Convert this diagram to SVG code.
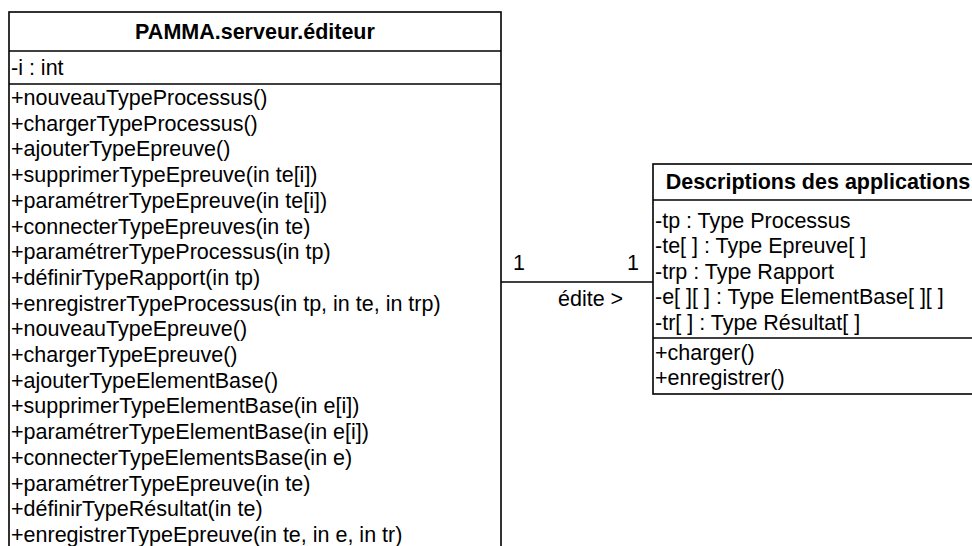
<svg xmlns="http://www.w3.org/2000/svg" width="972" height="546" viewBox="0 0 972 546">
<style>
.box{fill:#fff;stroke:#000;stroke-width:1.6}
.div{stroke:#000;stroke-width:1.6}
.t{font-family:"Liberation Sans",Arial,sans-serif;font-size:21.5px;fill:#000}
.b{font-weight:bold;text-anchor:middle}
.conn{stroke:#000;stroke-width:1.3;fill:none}
</style>
<rect width="972" height="546" fill="#fff"/>
<g id="editeur">
<rect class="box" x="9" y="12" width="492" height="560"/>
<line class="div" x1="9" y1="51" x2="501" y2="51"/>
<line class="div" x1="9" y1="84" x2="501" y2="84"/>
<text class="t b" x="255" y="39">PAMMA.serveur.éditeur</text>
<text class="t" x="11" y="75">-i : int</text>
<text class="t" x="11" y="105">+nouveauTypeProcessus()</text>
<text class="t" x="11" y="130.7">+chargerTypeProcessus()</text>
<text class="t" x="11" y="156.4">+ajouterTypeEpreuve()</text>
<text class="t" x="11" y="182.1">+supprimerTypeEpreuve(in te[i])</text>
<text class="t" x="11" y="207.8">+paramétrerTypeEpreuve(in te[i])</text>
<text class="t" x="11" y="233.5">+connecterTypeEpreuves(in te)</text>
<text class="t" x="11" y="259.2">+paramétrerTypeProcessus(in tp)</text>
<text class="t" x="11" y="284.9">+définirTypeRapport(in tp)</text>
<text class="t" x="11" y="310.6">+enregistrerTypeProcessus(in tp, in te, in trp)</text>
<text class="t" x="11" y="336.3">+nouveauTypeEpreuve()</text>
<text class="t" x="11" y="362">+chargerTypeEpreuve()</text>
<text class="t" x="11" y="387.7">+ajouterTypeElementBase()</text>
<text class="t" x="11" y="413.4">+supprimerTypeElementBase(in e[i])</text>
<text class="t" x="11" y="439.1">+paramétrerTypeElementBase(in e[i])</text>
<text class="t" x="11" y="464.8">+connecterTypeElementsBase(in e)</text>
<text class="t" x="11" y="490.5">+paramétrerTypeEpreuve(in te)</text>
<text class="t" x="11" y="516.2">+définirTypeRésultat(in te)</text>
<text class="t" x="11" y="541.9">+enregistrerTypeEpreuve(in te, in e, in tr)</text>
</g>
<g id="descriptions">
<rect class="box" x="653" y="164" width="340" height="230"/>
<line class="div" x1="653" y1="200" x2="993" y2="200"/>
<line class="div" x1="653" y1="338" x2="993" y2="338"/>
<text class="t b" x="818" y="189">Descriptions des applications</text>
<text class="t" x="655" y="227.5">-tp : Type Processus</text>
<text class="t" x="655" y="253">-te[ ] : Type Epreuve[ ]</text>
<text class="t" x="655" y="278.5">-trp : Type Rapport</text>
<text class="t" x="655" y="304">-e[ ][ ] : Type ElementBase[ ][ ]</text>
<text class="t" x="655" y="329.5">-tr[ ] : Type Résultat[ ]</text>
<text class="t" x="655" y="360">+charger()</text>
<text class="t" x="655" y="385">+enregistrer()</text>
</g>
<g id="connectors">
<line class="conn" x1="501" y1="282" x2="653" y2="282"/>
<text class="t" x="513" y="270">1</text>
<text class="t" x="627" y="270">1</text>
<text class="t" x="558" y="306">édite &gt;</text>
</g>
</svg>
